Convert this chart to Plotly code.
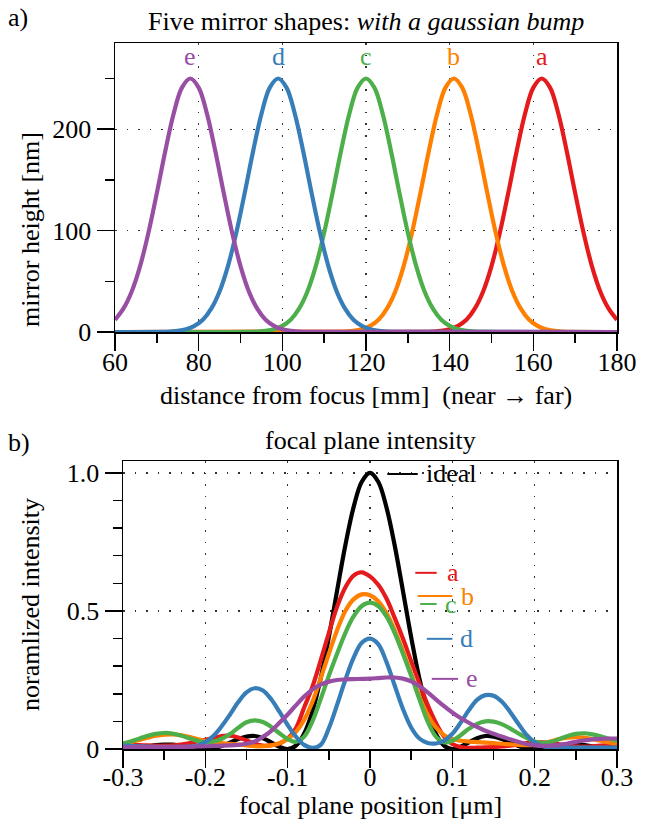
import plotly.graph_objects as go

# ---------------- data: panel a) mirror shapes ----------------
mirror_names = ["a", "b", "c", "d", "e"]
mirror_colors = ["#e41a1c", "#ff7f00", "#4daf4a", "#377eb8", "#984ea3"]
mirror_peaks = [162, 141, 120, 99, 78]

mirror_a_x = [60, 134, 136, 138, 140, 142, 144, 146, 148, 150, 152, 154, 156, 158, 160, 162,
              164, 166, 168, 170, 172, 174, 176, 178, 180]
mirror_a_h = [0, 0.1, 0.4, 1.1, 2.7, 6, 12, 23, 40, 65, 98, 137, 178, 215, 241, 250,
              241, 215, 178, 137, 98, 65, 40, 23, 12]

mirror_b_x = [60, 113, 115, 117, 119, 121, 123, 125, 127, 129, 131, 133, 135, 137, 139, 141,
              143, 145, 147, 149, 151, 153, 155, 157, 159, 161, 163, 165, 167, 169, 180]
mirror_b_h = [0, 0.1, 0.4, 1.1, 2.7, 6, 12, 23, 40, 65, 98, 137, 178, 215, 241, 250,
              241, 215, 178, 137, 98, 65, 40, 23, 12, 6, 2.7, 1.1, 0.4, 0.1, 0]

mirror_c_x = [60, 92, 94, 96, 98, 100, 102, 104, 106, 108, 110, 112, 114, 116, 118, 120,
              122, 124, 126, 128, 130, 132, 134, 136, 138, 140, 142, 144, 146, 148, 180]
mirror_c_h = [0, 0.1, 0.4, 1.1, 2.7, 6, 12, 23, 40, 65, 98, 137, 178, 215, 241, 250,
              241, 215, 178, 137, 98, 65, 40, 23, 12, 6, 2.7, 1.1, 0.4, 0.1, 0]

mirror_d_x = [60, 71, 73, 75, 77, 79, 81, 83, 85, 87, 89, 91, 93, 95, 97, 99,
              101, 103, 105, 107, 109, 111, 113, 115, 117, 119, 121, 123, 125, 127, 180]
mirror_d_h = [0, 0.1, 0.4, 1.1, 2.7, 6, 12, 23, 40, 65, 98, 137, 178, 215, 241, 250,
              241, 215, 178, 137, 98, 65, 40, 23, 12, 6, 2.7, 1.1, 0.4, 0.1, 0]

mirror_e_x = [60, 62, 64, 66, 68, 70, 72, 74, 76, 78, 80, 82, 84, 86, 88, 90,
              92, 94, 96, 98, 100, 102, 104, 106, 180]
mirror_e_h = [12, 23, 40, 65, 98, 137, 178, 215, 241, 250, 241, 215, 178, 137, 98, 65,
              40, 23, 12, 6, 2.7, 1.1, 0.4, 0.1, 0]

# ---------------- data: panel b) focal plane intensity ----------------
focal_x = [-0.30, -0.29, -0.28, -0.27, -0.26, -0.25, -0.24, -0.23, -0.22, -0.21,
           -0.20, -0.19, -0.18, -0.17, -0.16, -0.15, -0.14, -0.13, -0.12, -0.11,
           -0.10, -0.09, -0.08, -0.07, -0.06, -0.05, -0.04, -0.03, -0.02, -0.01,
           0.00, 0.01, 0.02, 0.03, 0.04, 0.05, 0.06, 0.07, 0.08, 0.09,
           0.10, 0.11, 0.12, 0.13, 0.14, 0.15, 0.16, 0.17, 0.18, 0.19,
           0.20, 0.21, 0.22, 0.23, 0.24, 0.25, 0.26, 0.27, 0.28, 0.29, 0.30]

intensity_ideal = [0.000, 0.001, 0.005, 0.009, 0.014, 0.016, 0.016, 0.012, 0.007, 0.002,
                   0.000, 0.003, 0.011, 0.023, 0.036, 0.045, 0.047, 0.039, 0.024, 0.008,
                   0.000, 0.012, 0.055, 0.135, 0.255, 0.405, 0.573, 0.737, 0.875, 0.968,
                   1.000, 0.968, 0.875, 0.737, 0.573, 0.405, 0.255, 0.135, 0.055, 0.012,
                   0.000, 0.008, 0.024, 0.039, 0.047, 0.045, 0.036, 0.023, 0.011, 0.003,
                   0.000, 0.002, 0.007, 0.012, 0.016, 0.016, 0.014, 0.009, 0.005, 0.001, 0.000]

intensity_a = [0.016, 0.015, 0.014, 0.013, 0.012, 0.012, 0.013, 0.016, 0.021, 0.027,
               0.033, 0.040, 0.047, 0.048, 0.042, 0.031, 0.019, 0.012, 0.014, 0.020,
               0.038, 0.075, 0.150, 0.225, 0.320, 0.420, 0.515, 0.585, 0.628, 0.640,
               0.625, 0.595, 0.545, 0.475, 0.400, 0.318, 0.238, 0.160, 0.095, 0.045,
               0.018, 0.007, 0.004, 0.005, 0.006, 0.007, 0.009, 0.012, 0.016, 0.021,
               0.024, 0.024, 0.021, 0.017, 0.013, 0.010, 0.009, 0.010, 0.012, 0.014, 0.016]

intensity_b = [0.018, 0.025, 0.033, 0.041, 0.048, 0.052, 0.053, 0.050, 0.044, 0.036,
               0.029, 0.024, 0.021, 0.019, 0.016, 0.013, 0.010, 0.010, 0.013, 0.021,
               0.036, 0.062, 0.105, 0.170, 0.255, 0.345, 0.430, 0.500, 0.542, 0.560,
               0.557, 0.535, 0.492, 0.430, 0.355, 0.272, 0.192, 0.125, 0.078, 0.050,
               0.036, 0.030, 0.027, 0.025, 0.023, 0.021, 0.019, 0.017, 0.015, 0.014,
               0.015, 0.020, 0.028, 0.036, 0.041, 0.043, 0.041, 0.036, 0.030, 0.024, 0.019]

intensity_c = [0.020, 0.028, 0.038, 0.048, 0.055, 0.058, 0.056, 0.049, 0.039, 0.030,
               0.025, 0.027, 0.037, 0.054, 0.077, 0.097, 0.104, 0.098, 0.080, 0.057,
               0.036, 0.026, 0.045, 0.100, 0.180, 0.265, 0.345, 0.420, 0.480, 0.518,
               0.530, 0.518, 0.480, 0.420, 0.345, 0.265, 0.180, 0.100, 0.045, 0.024,
               0.030, 0.050, 0.073, 0.091, 0.100, 0.099, 0.090, 0.075, 0.057, 0.040,
               0.027, 0.022, 0.026, 0.036, 0.047, 0.055, 0.057, 0.053, 0.046, 0.037, 0.030]

intensity_d = [0.012, 0.011, 0.010, 0.009, 0.008, 0.008, 0.008, 0.008, 0.009, 0.012,
               0.025, 0.048, 0.083, 0.125, 0.170, 0.205, 0.220, 0.212, 0.180, 0.135,
               0.087, 0.045, 0.015, 0.004, 0.015, 0.075, 0.160, 0.250, 0.330, 0.385,
               0.400, 0.380, 0.315, 0.230, 0.145, 0.078, 0.038, 0.022, 0.020, 0.030,
               0.055, 0.095, 0.140, 0.178, 0.195, 0.193, 0.172, 0.135, 0.092, 0.052,
               0.024, 0.010, 0.006, 0.005, 0.005, 0.005, 0.005, 0.005, 0.005, 0.005, 0.005]

intensity_e = [0.007, 0.007, 0.007, 0.007, 0.007, 0.007, 0.007, 0.008, 0.008, 0.009,
               0.010, 0.011, 0.012, 0.013, 0.015, 0.019, 0.027, 0.044, 0.066, 0.095,
               0.125, 0.158, 0.190, 0.215, 0.233, 0.244, 0.250, 0.252, 0.253, 0.254,
               0.255, 0.257, 0.259, 0.259, 0.255, 0.245, 0.228, 0.205, 0.180, 0.155,
               0.132, 0.112, 0.095, 0.080, 0.066, 0.055, 0.045, 0.035, 0.026, 0.018,
               0.013, 0.011, 0.012, 0.015, 0.020, 0.026, 0.031, 0.035, 0.037, 0.038, 0.038]

x_ticks_b = [-0.3, -0.2, -0.1, 0.0, 0.1, 0.2, 0.3]
x_ticktext_b = ["-0.3", "-0.2", "-0.1", "0", "0.1", "0.2", "0.3"]
y_ticks_b = [0, 0.5, 1.0]
y_ticktext_b = ["0", "0.5", "1.0"]

# ---------------- styling / layout (positions are not data) ----------------
FONT = "Liberation Serif"
FS = 26
W, H = 649, 827
LW = 4.2

mirror_x = [mirror_a_x, mirror_b_x, mirror_c_x, mirror_d_x, mirror_e_x]
mirror_h = [mirror_a_h, mirror_b_h, mirror_c_h, mirror_d_h, mirror_e_h]
focal_series = [intensity_a, intensity_b, intensity_c, intensity_d, intensity_e]

fig = go.Figure()

for xs, hs, col, nm in zip(mirror_x, mirror_h, mirror_colors, mirror_names):
    fig.add_trace(go.Scatter(x=xs, y=hs, mode="lines", name=nm, xaxis="x", yaxis="y",
                             line=dict(color=col, width=LW, shape="spline", smoothing=1),
                             showlegend=False, hoverinfo="skip"))

fig.add_trace(go.Scatter(x=focal_x, y=intensity_ideal, mode="lines", name="ideal",
                         xaxis="x2", yaxis="y2",
                         line=dict(color="black", width=LW, shape="spline", smoothing=1),
                         showlegend=False, hoverinfo="skip"))
for ys, col, nm in zip(focal_series, mirror_colors, mirror_names):
    fig.add_trace(go.Scatter(x=focal_x, y=ys, mode="lines", name=nm, xaxis="x2", yaxis="y2",
                             line=dict(color=col, width=LW, shape="spline", smoothing=1),
                             showlegend=False, hoverinfo="skip"))

axis_common = dict(
    showline=True, linecolor="black", linewidth=1.5, mirror=True,
    ticks="outside", ticklen=17, tickwidth=1.5, tickcolor="black",
    showgrid=True, gridcolor="#333333", gridwidth=1.3, griddash="1.5px,10px",
    zeroline=False, tickfont=dict(family=FONT, size=FS, color="black"),
    fixedrange=True, automargin=False,
)
minor_common = dict(ticks="outside", ticklen=9, tickwidth=1.5, tickcolor="black", showgrid=False)

def py(p):
    return 1 - p / H

fig.update_layout(
    width=W, height=H,
    margin=dict(l=0, r=0, t=0, b=0, pad=0, autoexpand=False),
    paper_bgcolor="white", plot_bgcolor="white",
    font=dict(family=FONT, size=FS, color="black"),
    xaxis=dict(axis_common, domain=[115 / W, 617 / W], range=[60, 180],
               tickmode="linear", tick0=60, dtick=20, ticklabelstandoff=-11,
               minor=dict(minor_common, dtick=10), anchor="y"),
    yaxis=dict(axis_common, domain=[py(332), py(43)], range=[0, 285],
               tickmode="linear", tick0=0, dtick=100,
               minor=dict(minor_common, dtick=50), anchor="x"),
    xaxis2=dict(axis_common, domain=[123 / W, 617 / W], range=[-0.3, 0.3],
                tickmode="array", tickvals=x_ticks_b, ticktext=x_ticktext_b,
                ticklabelstandoff=-13,
                minor=dict(minor_common, tick0=-0.3, dtick=0.05), anchor="y2"),
    yaxis2=dict(axis_common, domain=[py(749), py(461)], range=[0, 1.043],
                tickmode="array", tickvals=y_ticks_b, ticktext=y_ticktext_b,
                minor=dict(minor_common, tick0=0, dtick=0.1), anchor="x2"),
)

ann = []
def txt(x, y, s, **kw):
    d = dict(x=x, y=y, text=s, showarrow=False, xref="paper", yref="paper",
             font=dict(family=FONT, size=FS, color="black"),
             xanchor="center", yanchor="middle")
    d.update(kw)
    ann.append(d)

txt(6 / W, py(18), "a)", xanchor="left")
txt(366 / W, py(22), "Five mirror shapes: <i>with a gaussian bump</i>")
txt(366 / W, py(395), "distance from focus [mm]\u00a0\u00a0(near \u2192 far)")
txt(30 / W, py(230), "mirror height [nm]", textangle=-90)
txt(6 / W, py(442), "b)", xanchor="left")
txt(370 / W, py(440), "focal plane intensity")
txt(370 / W, py(805), "focal plane position [\u03bcm]")
txt(30 / W, py(605), "noramlized intensity", textangle=-90)

# mirror letters above each bump
for pk, col, nm in zip(mirror_peaks, mirror_colors, mirror_names):
    ann.append(dict(x=pk, y=272, xref="x", yref="y", text=nm, showarrow=False,
                    font=dict(family=FONT, size=FS, color=col),
                    xanchor="center", yanchor="middle"))

# inline legend of panel b)
legend_items = [
    # label, color, line x0, line x1, y, text x
    ("ideal", "black", 0.021, 0.058, 0.996, 0.066),
    ("a", mirror_colors[0], 0.055, 0.081, 0.638, 0.091),
    ("b", mirror_colors[1], 0.058, 0.100, 0.554, 0.108),
    ("c", mirror_colors[2], 0.061, 0.081, 0.525, 0.089),
    ("d", mirror_colors[3], 0.069, 0.100, 0.399, 0.107),
    ("e", mirror_colors[4], 0.075, 0.107, 0.254, 0.114),
]
shapes = []
for lab, col, x0, x1, yv, xt in legend_items:
    shapes.append(dict(type="line", xref="x2", yref="y2", x0=x0, x1=x1, y0=yv, y1=yv,
                       line=dict(color=col, width=2)))
    ann.append(dict(x=xt, y=yv, xref="x2", yref="y2", text=lab, showarrow=False,
                    font=dict(family=FONT, size=FS, color=col),
                    xanchor="left", yanchor="middle", bgcolor="rgba(0,0,0,0)"))

fig.update_layout(annotations=ann, shapes=shapes)

fig.write_html("out.html",
               config={"displayModeBar": False, "staticPlot": True},
               post_script="document.body.style.margin='0px';document.body.style.padding='0px';")
